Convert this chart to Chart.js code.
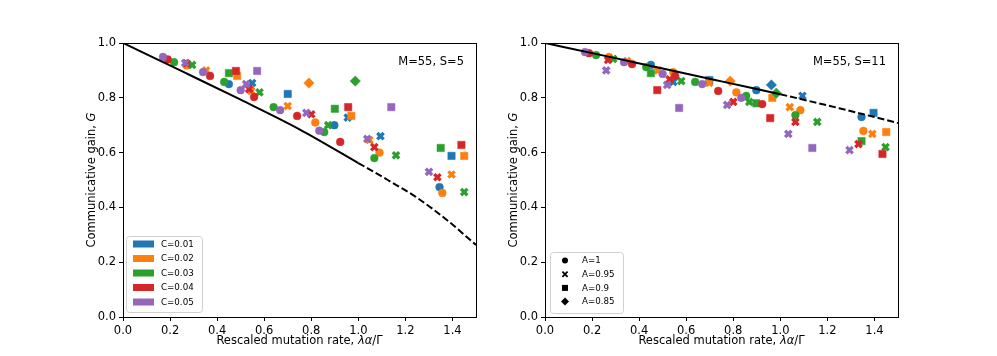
<!DOCTYPE html>
<html>
<head>
<meta charset="utf-8">
<script src="https://cdn.jsdelivr.net/npm/chart.js@4.4.1/dist/chart.umd.min.js"></script>
<style>
  body { margin: 0; background: #fff; }
  #wrap { position: relative; width: 997px; height: 356px; }
  canvas { position: absolute; top: 0; }
</style>
</head>
<body>
<div id="wrap">
  <canvas id="leftChart" width="498" height="356" style="left:0px"></canvas>
  <canvas id="rightChart" width="498" height="356" style="left:422px"></canvas>
</div>
<script>
// ticks and legend labels
const xTicks = [0, 0.2, 0.4, 0.6, 0.8, 1.0, 1.2, 1.4];
const yTicks = [0, 0.2, 0.4, 0.6, 0.8, 1.0];
const cLabels = ['C=0.01', 'C=0.02', 'C=0.03', 'C=0.04', 'C=0.05'];
const aLabels = ['A=1', 'A=0.95', 'A=0.9', 'A=0.85'];
const aValues = [1, 0.95, 0.9, 0.85];
const cColors = ['#1f77b4', '#ff7f0e', '#2ca02c', '#d62728', '#9467bd'];

// theory curves (solid part, dashed part)
const leftSolidX = [0, 0.25, 0.5, 0.75, 1.0];
const leftSolidY = [1.0, 0.897, 0.793, 0.685, 0.562];
const leftDashX = [1.0, 1.125, 1.25, 1.375, 1.5];
const leftDashY = [0.562, 0.5, 0.435, 0.355, 0.263];
const rightSolidX = [0, 0.25, 0.5, 0.75, 1.0];
const rightSolidY = [1.0, 0.954, 0.907, 0.86, 0.813];
const rightDashX = [1.0, 1.25, 1.5];
const rightDashY = [0.813, 0.762, 0.708];

// simulation points [x, G, A], one list per C, M=55 S=5
const leftC1 = [[0.45,0.85,1],[0.549,0.854,0.95],[0.70,0.814,0.9],[0.898,0.70,1],[0.955,0.728,0.95],[1.094,0.66,0.95],[1.396,0.588,0.9],[1.345,0.474,1]];
const leftC2 = [[0.27,0.918,1],[0.353,0.90,0.95],[0.485,0.88,0.9],[0.545,0.825,0.95],[0.70,0.77,0.95],[0.79,0.854,0.85],[0.817,0.71,1],[0.97,0.734,0.9],[1.047,0.646,0.95],[1.09,0.60,1],[1.396,0.52,0.95],[1.357,0.453,1],[1.45,0.588,0.9]];
const leftC3 = [[0.217,0.93,1],[0.294,0.92,0.95],[0.43,0.858,1],[0.45,0.89,0.9],[0.58,0.82,0.95],[0.64,0.766,1],[0.855,0.675,1],[0.872,0.70,0.95],[0.90,0.76,0.9],[0.987,0.861,0.85],[1.068,0.58,1],[1.16,0.59,0.95],[1.35,0.617,0.9],[1.45,0.456,0.95]];
const leftC4 = [[0.19,0.94,1],[0.27,0.926,0.95],[0.37,0.88,1],[0.48,0.898,0.9],[0.536,0.832,0.95],[0.557,0.803,1],[0.74,0.734,1],[0.80,0.74,0.95],[0.923,0.639,1],[0.957,0.766,0.9],[1.068,0.62,0.95],[1.336,0.51,0.95],[1.438,0.628,0.9]];
const leftC5 = [[0.17,0.949,1],[0.264,0.927,0.95],[0.34,0.894,1],[0.50,0.828,1],[0.523,0.85,0.95],[0.57,0.898,0.9],[0.668,0.755,1],[0.779,0.745,0.95],[0.834,0.68,1],[1.038,0.65,0.95],[1.14,0.766,0.9],[1.30,0.53,0.95]];

// M=55 S=11
const rightC1 = [[0.45,0.92,1],[0.545,0.858,0.95],[0.698,0.865,0.9],[0.898,0.828,1],[0.962,0.847,0.85],[1.094,0.807,0.95],[1.345,0.73,1],[1.396,0.745,0.9]];
const rightC2 = [[0.272,0.949,1],[0.349,0.934,0.95],[0.48,0.90,0.95],[0.545,0.894,1],[0.698,0.854,0.95],[0.787,0.861,0.85],[0.813,0.82,1],[0.966,0.80,0.9],[1.04,0.766,0.95],[1.085,0.755,1],[1.353,0.679,1],[1.391,0.668,0.95],[1.45,0.675,0.9]];
const rightC3 = [[0.217,0.956,1],[0.29,0.942,0.95],[0.43,0.912,1],[0.45,0.89,0.9],[0.579,0.861,0.95],[0.638,0.858,1],[0.855,0.807,1],[0.868,0.785,0.95],[0.898,0.78,0.9],[0.983,0.817,0.85],[1.064,0.737,1],[1.157,0.712,0.95],[1.345,0.642,0.9],[1.447,0.62,0.95]];
const rightC4 = [[0.187,0.963,1],[0.268,0.938,0.95],[0.37,0.923,1],[0.477,0.828,0.9],[0.53,0.867,0.95],[0.553,0.88,1],[0.736,0.825,1],[0.80,0.785,0.95],[0.923,0.777,1],[0.957,0.726,0.9],[1.064,0.712,0.95],[1.332,0.631,0.95],[1.434,0.595,0.9]];
const rightC5 = [[0.17,0.967,1],[0.26,0.90,0.95],[0.336,0.93,1],[0.50,0.887,1],[0.519,0.847,0.95],[0.57,0.763,0.9],[0.668,0.85,1],[0.774,0.774,0.95],[0.834,0.80,1],[1.034,0.668,0.95],[1.136,0.617,0.9],[1.294,0.609,0.95]];

const FONT = '"DejaVu Sans", sans-serif';
Chart.defaults.font.family = FONT;
Chart.defaults.font.size = 11.5;
Chart.defaults.color = '#000';

// marker look per A value
function markerFor(a) {
    if (a === 1) return { style: 'circle', r: 3.9, w: 0.5 };
    if (a === 0.95) return { style: 'crossRot', r: 4.5, w: 3.3 };
    if (a === 0.9) return { style: 'rect', r: 5.2, w: 0.5 };
    return { style: 'rectRot', r: 5.2, w: 0.5 };
}

function drawMarker(ctx, style, x, y, s) {
    ctx.beginPath();
    if (style === 'circle') {
        ctx.arc(x, y, s, 0, Math.PI * 2);
        ctx.fill();
    } else if (style === 'crossRot') {
        ctx.lineWidth = 1.8;
        ctx.moveTo(x - s, y - s); ctx.lineTo(x + s, y + s);
        ctx.moveTo(x - s, y + s); ctx.lineTo(x + s, y - s);
        ctx.stroke();
    } else if (style === 'rect') {
        ctx.fillRect(x - s, y - s, 2 * s, 2 * s);
    } else {
        ctx.moveTo(x, y - s); ctx.lineTo(x + s, y); ctx.lineTo(x, y + s); ctx.lineTo(x - s, y);
        ctx.closePath();
        ctx.fill();
    }
}

// text with italic pieces, centred on (cx, cy)
function drawMixed(ctx, parts, cx, cy, angle) {
    ctx.save();
    ctx.translate(cx, cy);
    ctx.rotate(angle);
    ctx.textBaseline = 'middle';
    ctx.textAlign = 'left';
    ctx.fillStyle = '#000';
    let total = 0;
    parts.forEach(p => {
        ctx.font = (p[1] ? 'italic ' : '') + '11.5px ' + FONT;
        total += ctx.measureText(p[0]).width;
    });
    let x = -total / 2;
    parts.forEach(p => {
        ctx.font = (p[1] ? 'italic ' : '') + '11.5px ' + FONT;
        ctx.fillText(p[0], x, 0);
        x += ctx.measureText(p[0]).width;
    });
    ctx.restore();
}

function roundRect(ctx, x, y, w, h, r) {
    ctx.beginPath();
    ctx.moveTo(x + r, y);
    ctx.arcTo(x + w, y, x + w, y + h, r);
    ctx.arcTo(x + w, y + h, x, y + h, r);
    ctx.arcTo(x, y + h, x, y, r);
    ctx.arcTo(x, y, x + w, y, r);
    ctx.closePath();
}

const panelPlugin = {
    id: 'panel',
    afterDatasetsDraw(chart, args, opts) {
        const ctx = chart.ctx;
        const a = chart.chartArea;
        ctx.save();
        ctx.strokeStyle = '#000';
        ctx.lineWidth = 1;
        ctx.strokeRect(Math.round(a.left) + 0.5, Math.round(a.top) + 0.5, a.right - a.left, a.bottom - a.top);
        ctx.restore();
    },
    afterDraw(chart, args, opts) {
        const ctx = chart.ctx;
        const a = chart.chartArea;
        ctx.save();
        // M, S note
        ctx.font = '11.5px ' + FONT;
        ctx.fillStyle = '#000';
        ctx.textAlign = 'right';
        ctx.textBaseline = 'middle';
        ctx.fillText(opts.note, a.right - 12, 62);

        // axis titles
        drawMixed(ctx, [['Rescaled mutation rate, ', false], ['\u03bb\u03b1', true], ['/\u0393', false]], (a.left + a.right) / 2, 341, 0);
        drawMixed(ctx, [['Communicative gain, ', false], ['G', true]], 92, (a.top + a.bottom) / 2, -Math.PI / 2);

        // legend
        const lg = opts.legend;
        ctx.globalAlpha = 0.85;
        ctx.fillStyle = '#fff';
        roundRect(ctx, lg.x + 0.5, lg.y + 0.5, lg.w, lg.h, 3);
        ctx.fill();
        ctx.globalAlpha = 1;
        ctx.strokeStyle = '#d0d0d0';
        ctx.lineWidth = 1;
        ctx.stroke();
        ctx.font = '8.7px ' + FONT;
        ctx.textAlign = 'left';
        ctx.textBaseline = 'middle';
        lg.labels.forEach((label, i) => {
            const y = lg.y0 + i * lg.step;
            if (lg.kind === 'C') {
                ctx.fillStyle = cColors[i];
                ctx.fillRect(lg.x + 7, y - 3.5, 21, 7);
            } else {
                ctx.fillStyle = '#000';
                ctx.strokeStyle = '#000';
                const m = markerFor(aValues[i]);
                const size = { circle: 3, crossRot: 2.6, rect: 3, rectRot: 4 }[m.style];
                drawMarker(ctx, m.style, lg.x + 15, y, size);
            }
            ctx.fillStyle = '#000';
            ctx.fillText(label, lg.x + lg.textDx, y + 0.5);
        });
        ctx.restore();
    }
};

function lineData(xs, ys) {
    return xs.map((x, i) => ({ x: x, y: ys[i] }));
}

function makeChart(id, groups, solidX, solidY, dashX, dashY, note, legend) {
    const datasets = [
        { type: 'line', data: lineData(solidX, solidY), borderColor: '#000', borderWidth: 2, pointRadius: 0, fill: false, cubicInterpolationMode: 'monotone' },
        { type: 'line', data: lineData(dashX, dashY), borderColor: '#000', borderWidth: 2, borderDash: [7, 3], pointRadius: 0, fill: false, cubicInterpolationMode: 'monotone' }
    ];
    // later C values drawn on top
    for (let i = groups.length - 1; i >= 0; i--) {
        datasets.push({
            type: 'scatter',
            data: groups[i].map(p => ({ x: p[0], y: p[1], a: p[2] })),
            backgroundColor: cColors[i],
            borderColor: cColors[i],
            pointStyle: c => markerFor(c.raw.a).style,
            pointRadius: c => markerFor(c.raw.a).r,
            pointBorderWidth: c => markerFor(c.raw.a).w
        });
    }

    return new Chart(document.getElementById(id).getContext('2d'), {
        type: 'scatter',
        data: { datasets: datasets },
        options: {
            responsive: false,
            animation: false,
            devicePixelRatio: 1,
            layout: { padding: { left: 0, top: 43, right: 22, bottom: 0 } },
            plugins: {
                legend: { display: false },
                tooltip: { enabled: false },
                panel: { note: note, legend: legend }
            },
            scales: {
                x: {
                    type: 'linear', min: 0, max: 1.5,
                    afterBuildTicks: s => { s.ticks = xTicks.map(v => ({ value: v })); },
                    afterFit: s => { s.height = 39; },
                    ticks: { callback: v => v.toFixed(1), padding: 3, maxRotation: 0, autoSkip: false },
                    grid: { drawOnChartArea: false, drawTicks: true, tickLength: 4, color: '#000' },
                    border: { display: false }
                },
                y: {
                    type: 'linear', min: 0, max: 1.0,
                    afterBuildTicks: s => { s.ticks = yTicks.map(v => ({ value: v })); },
                    afterFit: s => { s.width = 123; },
                    ticks: { callback: v => v.toFixed(1), padding: 3, autoSkip: false },
                    grid: { drawOnChartArea: false, drawTicks: true, tickLength: 4, color: '#000' },
                    border: { display: false }
                }
            }
        },
        plugins: [panelPlugin]
    });
}

makeChart('leftChart', [leftC1, leftC2, leftC3, leftC4, leftC5], leftSolidX, leftSolidY, leftDashX, leftDashY,
    'M=55, S=5',
    { kind: 'C', labels: cLabels, x: 126, y: 236, w: 76, h: 76, y0: 244, step: 14.5, textDx: 35 });

makeChart('rightChart', [rightC1, rightC2, rightC3, rightC4, rightC5], rightSolidX, rightSolidY, rightDashX, rightDashY,
    'M=55, S=11',
    { kind: 'A', labels: aLabels, x: 128, y: 252, w: 73, h: 61, y0: 260.5, step: 13.7, textDx: 32 });
</script>
</body>
</html>
